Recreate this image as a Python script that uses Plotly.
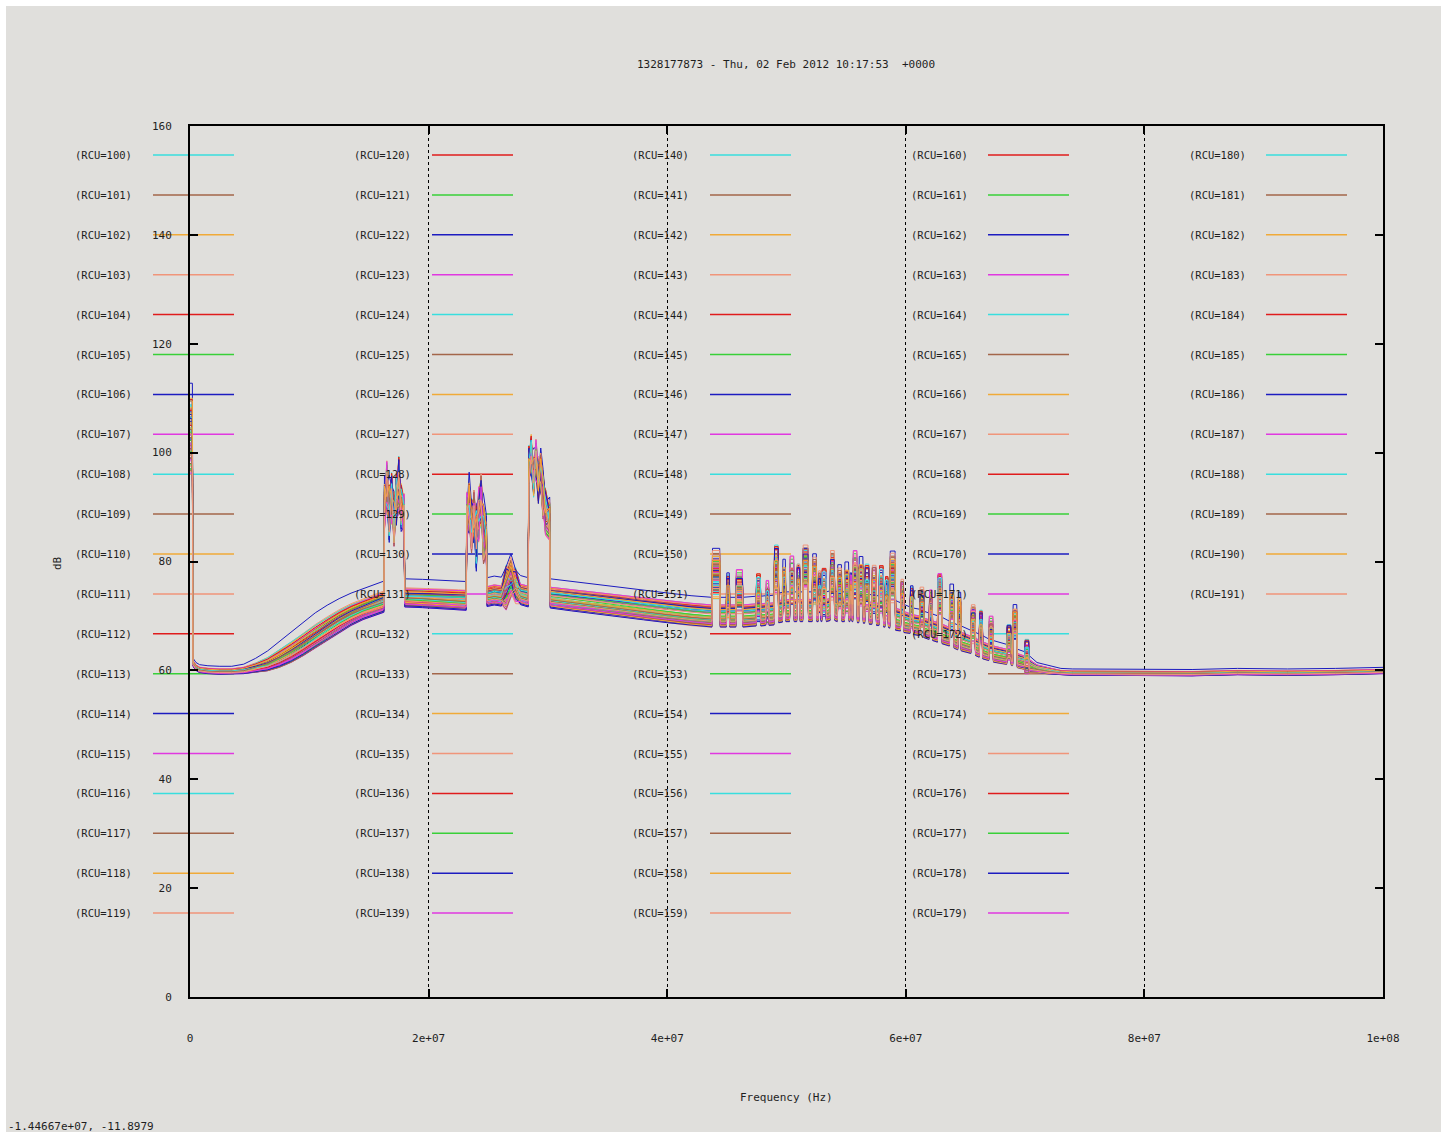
import plotly.graph_objects as go

# ---------------- data ----------------
# 0 - 43.75 MHz: low band, three RFI bands and smooth decline
freq_mhz = (
    [0.0, 0.2, 0.25, 0.5, 0.8, 1.5, 2.5, 3.5, 4.5, 5.5, 6.5, 7.5, 8.5, 9.5,
     10.5, 11.5, 12.5, 13.5, 14.5, 15.5, 16.25]
    + [16.3, 16.5, 16.7, 16.9, 17.1, 17.3, 17.5, 17.7, 17.95]
    + [18.0, 19.5, 21.0, 22.5, 23.15]
    + [23.2, 23.4, 23.6, 23.8, 24.0, 24.2, 24.4, 24.6, 24.85]
    + [24.9, 25.5, 26.1, 26.5, 26.9, 27.3, 27.7, 28.35]
    + [28.4, 28.6, 28.8, 29.0, 29.2, 29.4, 29.6, 29.8, 30.15]
    + [30.2, 32.0, 34.0, 36.0, 38.0, 40.0, 42.0, 43.75]
)
base_db = (
    [104, 104, 61.3, 60.5, 60.1, 59.9, 59.8, 59.8, 60.0, 60.5, 61.1, 62.1, 63.3,
     64.7, 66.2, 67.6, 69.0, 70.2, 71.2, 72.0, 72.6]
    + [90, 93, 89, 92, 88, 91, 94, 90, 89]
    + [73.4, 73.3, 73.1, 73.0, 72.9]
    + [87, 90, 86, 89, 85, 88, 91, 86, 84]
    + [73.6, 73.9, 73.7, 74.6, 76.0, 75.0, 74.0, 73.6]
    + [97, 99, 96, 98, 95, 97, 92, 89, 88]
    + [73.4, 72.9, 72.4, 71.9, 71.3, 70.8, 70.3, 70.0]
)
spread_db = (
    [2.5, 2.5, 0.5, 0.5, 0.5, 0.5, 0.5, 0.5, 0.6, 0.9, 1.3, 1.7, 2.0, 2.2, 2.3,
     2.3, 2.2, 2.1, 2.0, 2.0, 2.0]
    + [1.5] * 9 + [1.8] * 5 + [1.8] * 9 + [1.8] * 8 + [1.5] * 9 + [1.8] * 8
)
tilt_db = (
    [0, 0, 0, 0, 0, 0, 0, 0, 0, 0.3, 0.6, 0.9, 1.0, 1.0, 0.9, 0.8, 0.7, 0.6,
     0.5, 0.4, 0.3]
    + [0] * 9 + [0.2, 0.1, 0.0, -0.1, -0.2] + [0] * 9
    + [-0.2, -0.3, -0.3, -0.3, -0.4, -0.4, -0.4, -0.5] + [0] * 9
    + [-0.5, -0.6, -0.6, -0.7, -0.7, -0.8, -0.8, -0.8]
)
slot = (
    [0, 0] + [-1] * 19
    + [1, 2, 3, 4, 5, 6, 7, 8, 9] + [-1] * 5
    + [10, 11, 12, 13, 14, 15, 16, 17, 18]
    + [-1, -1, -1, 19, 20, 21, -1, -1]
    + [22, 23, 24, 25, 26, 27, 28, 29, 30] + [-1] * 8
)

# 43.8 - 70.3 MHz: narrow RFI spikes
spk_start_mhz = [43.8, 45.0, 45.8, 47.5, 48.3, 49.0, 49.7, 50.3, 50.9, 51.4,
                 52.2, 52.7, 53.0, 53.7, 54.3, 54.9, 55.35, 55.6, 56.1, 56.6,
                 57.2, 57.8, 58.3, 58.7, 59.6, 60.4, 61.2, 62.0, 62.7, 63.7,
                 64.4, 65.5, 66.2, 67.0, 68.5, 69.0, 70.0]
spk_end_mhz = [44.4, 45.2, 46.3, 47.8, 48.5, 49.3, 49.9, 50.6, 51.1, 51.8,
               52.5, 52.85, 53.3, 54.0, 54.6, 55.2, 55.45, 55.9, 56.4, 56.9,
               57.5, 58.1, 58.5, 59.1, 59.8, 60.6, 61.5, 62.2, 63.0, 64.0,
               64.6, 65.8, 66.4, 67.3, 68.8, 69.3, 70.3]
spk_peak_db = [77, 73.5, 74.5, 73, 72.5, 78, 75, 76, 75.5, 78,
               76, 74.5, 74, 77, 75, 74.5, 73.5, 77, 75.5, 74.5,
               74.5, 74.5, 73.5, 76.5, 73, 71.5, 70.5, 71, 74, 71,
               69.5, 68.5, 67.5, 66.5, 65, 68, 62.5]
spk_floor_before_db = [70.0, 70.0, 70.0, 70.2, 70.3, 70.4, 70.9, 71.0, 71.0, 71.0,
                       71.0, 71.0, 71.0, 71.2, 71.0, 71.0, 71.0, 71.0, 70.8, 70.7,
                       70.5, 70.3, 70.0, 69.8, 69.2, 68.6, 68.2, 67.5, 67.0, 66.2,
                       65.5, 64.7, 64.0, 63.3, 62.5, 62.2, 61.4]
spk_floor_after_db = [70.0, 70.0, 70.0, 70.2, 70.3, 70.8, 71.0, 71.0, 71.0, 71.0,
                      71.0, 71.0, 71.0, 71.2, 71.0, 71.0, 71.0, 70.8, 70.7, 70.5,
                      70.3, 70.0, 69.9, 69.4, 68.9, 68.4, 67.8, 67.3, 66.7, 65.8,
                      65.3, 64.3, 63.7, 63.0, 62.3, 61.8, 60.8]
spk_spread_db = [1.8] * 24 + [1.7, 1.6, 1.6, 1.6, 1.6, 1.5, 1.5, 1.4, 1.4, 1.3,
                              1.2, 1.1, 1.0]
spk_tilt_db = [-0.8] * 25 + [-0.7] * 6 + [-0.6] * 6
spk_slot = [31, 55, 32, 33, 56, 34, 57, 35, 58, 36,
            37, 59, 38, 39, 40, 41, 60, 42, 61, 43,
            44, 45, 62, 46, 63, 64, 47, 65, 48, 49,
            66, 50, 67, 51, 52, 53, 54]

# 71 - 100 MHz: quiet tail
tail_freq_mhz = [71.0, 72.0, 73.0, 74.0, 76.0, 80.0, 84.0, 87.8, 92.0, 96.0,
                 99.0, 100.0]
tail_db = [60.3, 59.9, 59.6, 59.5, 59.5, 59.4, 59.4, 59.6, 59.5, 59.6, 59.8,
           59.8]
tail_spread_db = [0.6, 0.5] + [0.4] * 10
tail_tilt_db = [-0.3, -0.2] + [0] * 10

# RCU-specific deviations in the RFI bands and spikes (dB), 68 slots
pattern_a = [4, 3, -2, 4, -1, 2, -3, 1, 0, -2, -2, 3, 1, -4, 2, 0, -1, 3, 1,
             1, 2, 0, 1, -2, 2, 0, -3, 1, 2, -1, 1,
             2, -1, 0, 1, -2, 1, 2, 0, -1, 1, 2, -2, 0, 1, -1, 2,
             1, -1, 2, 0, -1, 1, 2, -1,
             1, -1, 2, 0, -2, 1, 2, -1, 0, 1, -1, 2, 0]
pattern_b = [-3, -1, 4, -3, 2, -4, 1, 3, -2, 2, 4, -1, -3, 2, -2, 4, 1, -5, -1,
             -2, -1, 1, -2, 1, -1, 3, 1, -2, -3, 2, -2,
             -1, 2, 1, -2, 3, -1, 0, 2, 1, -2, -1, 3, -2, 0, 2, -1,
             -1, 2, 0, 1, 2, -2, 0, 1,
             -1, 2, 0, 1, -1, 2, -2, 0, 1, -1, 2, 0, 1]
pattern_c = [1, 2, 1, -4, 3, 0, -2, 4, -3, -1, 1, -3, 4, 0, -5, 2, 3, -2, 2,
             3, 1, 2, 3, -1, -2, 1, 2, -3, 1, 3, 0,
             0, 1, -2, 3, 0, 2, -1, -2, 2, 0, 1, -1, 3, -2, 0, 1,
             2, 0, -2, 1, 0, 2, -1, 2,
             2, 0, -1, 2, 1, -2, 0, 1, -1, 2, 0, -1, 2]
pattern_d = [-6, -3, -1, 2, -4, 3, 2, -2, 1, -4, -3, 2, -2, 3, 1, -3, 4, 0, -2,
             -1, 0, -1, -1, 2, 1, -2, 0, 2, -1, -3, -3,
             1, -2, 2, 0, 1, -1, 3, 1, -2, 2, 0, 1, -1, 3, 1, -2,
             0, 1, 1, -2, 1, 0, 2, 0,
             0, 1, -2, -1, 2, 0, 1, -2, 2, 0, 1, 1, -1]
pattern_e = [2, 1, -3, 0, 2, -2, 4, -1, 3, 1, 2, 0, -1, -2, 4, -1, -3, 2, 0,
             0, -1, 1, 0, 3, -3, 2, -1, 0, 3, 1, -1,
             -2, 0, 3, -1, 1, 0, -2, 3, 0, -1, 2, 0, 1, -1, 3, 0,
             -1, 2, 1, 0, -2, 1, 0, 1,
             -2, 1, 1, -1, 0, -1, 2, 2, -1, 1, -2, 0, 1]
pattern_f = [-1, -2, 2, 3, -3, 1, -1, -4, 2, 0, -1, -2, 2, 1, -1, 3, -2, 1, -3,
             2, 3, 0, 2, 0, 1, -1, 3, -1, -2, 0, 2,
             3, 1, -1, 2, -1, 3, 1, -1, 3, 1, -2, 2, 2, -1, -2, 3,
             3, -2, 0, 2, 1, -1, 1, -2,
             1, -2, 0, 2, 1, 0, -1, 1, 0, -2, 1, 2, 0]

rcu_ids = list(range(100, 192))
rcu_gain = [0.3, -0.5, 0.8, -0.2, 0.1, -0.9, 0.6, -0.4, 0.9, 0.0,
            -0.7, 0.4, -0.1, 0.7, -0.6, 0.2, -0.8, 0.5, -0.3, 1.0,
            0.1, -0.4, 0.6, -1.0, 0.3, -0.2, 0.8, -0.6, 0.4, -0.1,
            0.7, -0.8, 0.2, -0.5, 0.9, -0.3, 0.0, 0.5, -0.7, 0.3,
            -0.2, 0.6, -0.9, 0.1, 0.8, -0.4, 0.4, -0.6, 0.2, -0.1,
            0.5, -0.8, 0.7, -0.3, 1.9, 0.0, -0.5, 0.6, -0.2, 0.9,
            -0.6, 0.3, -1.0, 0.4, 0.1, -0.7, 0.8, -0.3, 0.5, -0.1,
            0.2, -0.5, 0.7, -0.8, 0.0, 0.6, -0.4, 0.3, -0.9, 0.9,
            -0.2, 0.4, -0.6, 0.1, 0.7, -0.3, 0.5, -0.7, 0.2, -0.1,
            0.6, -0.4]
rcu_tilt = [-0.6, 0.4, 0.2, -0.9, 0.7, 0.1, -0.3, 0.8, -0.5, 0.6,
            0.3, -0.8, 0.9, -0.2, 0.0, -0.7, 0.5, -0.4, 0.8, -0.1,
            0.6, 0.9, -0.5, 0.2, -0.8, 0.4, -0.2, 0.7, -0.9, 0.1,
            -0.4, 0.3, 0.8, -0.6, -0.1, 0.5, -0.9, 0.2, 0.6, -0.3,
            0.9, -0.5, 0.1, 0.7, -0.4, -0.8, 0.3, 0.0, -0.7, 0.5,
            -0.2, 0.8, -0.6, 0.4, 0.0, -0.9, 0.6, 0.2, -0.3, -0.5,
            0.7, -0.1, 0.3, -0.8, 0.9, 0.4, -0.6, 0.1, -0.4, 0.8,
            -0.7, 0.2, 0.5, -0.2, 0.6, -0.9, 0.0, 0.7, 0.3, -0.5,
            0.4, -0.8, 0.9, -0.3, 0.1, 0.6, -0.6, 0.2, -0.9, 0.5,
            -0.1, 0.3]

x_tick_vals = [0, 2e7, 4e7, 6e7, 8e7, 1e8]
x_tick_text = ["0", "2e+07", "4e+07", "6e+07", "8e+07", "1e+08"]
y_tick_vals = [0, 20, 40, 60, 80, 100, 120, 140, 160]

title_text = "1328177873 - Thu, 02 Feb 2012 10:17:53  +0000"
x_title = "Frequency (Hz)"
y_title = "dB"
cursor_text = "-1.44667e+07, -11.8979"

# ---------------- assemble the common frequency grid ----------------
EDGE = 0.05  # MHz, width of the rising/falling edge of a spike
grid_f = list(freq_mhz)
grid_b = list(base_db)
grid_s = list(spread_db)
grid_t = list(tilt_db)
grid_slot = list(slot)
for j in range(len(spk_start_mhz)):
    grid_f += [spk_start_mhz[j] - EDGE, spk_start_mhz[j], spk_end_mhz[j],
               spk_end_mhz[j] + EDGE]
    grid_b += [spk_floor_before_db[j], spk_peak_db[j], spk_peak_db[j],
               spk_floor_after_db[j]]
    grid_s += [spk_spread_db[j]] * 4
    grid_t += [spk_tilt_db[j]] * 4
    grid_slot += [-1, spk_slot[j], spk_slot[j], -1]
grid_f += tail_freq_mhz
grid_b += tail_db
grid_s += tail_spread_db
grid_t += tail_tilt_db
grid_slot += [-1] * len(tail_freq_mhz)

n = len(grid_f)
for name, arr in [("base", grid_b), ("spread", grid_s), ("tilt", grid_t),
                  ("slot", grid_slot)]:
    if len(arr) != n:
        raise SystemExit(f"{name} length {len(arr)} != {n}")
patterns = [pattern_a, pattern_b, pattern_c, pattern_d, pattern_e, pattern_f]
for p in patterns:
    if len(p) != 68:
        raise SystemExit(f"pattern length {len(p)}")

# ---------------- style ----------------
palette = ["#38dede", "#a3664a", "#f0aa38", "#f0957a",
           "#e01c1c", "#38d038", "#1c1cc0", "#e038e0"]
FONT = "DejaVu Sans Mono"
BG = "#e0dfdc"
TXT = "#1e1e1e"

X0, X1, Y0, Y1 = 190, 1383, 126, 997   # plot-area pixel frame


def px(x):
    return (x - X0) / (X1 - X0)


def py(y):
    return (Y1 - y) / (Y1 - Y0)


freq_hz = [f * 1e6 for f in grid_f]

fig = go.Figure()
for i, rcu in enumerate(rcu_ids):
    pat = patterns[i % len(patterns)]
    y = []
    for k in range(n):
        v = grid_b[k] + rcu_gain[i] * grid_s[k] + rcu_tilt[i] * grid_t[k]
        if grid_slot[k] >= 0:
            v += pat[grid_slot[k]]
        y.append(v)
    fig.add_trace(go.Scatter(
        x=freq_hz, y=y, mode="lines", name=f"(RCU={rcu})",
        line=dict(color=palette[i % 8], width=1),
        showlegend=False, hoverinfo="skip"))

# ---------------- manual gnuplot-style key ----------------
shapes = [dict(type="rect", xref="paper", yref="paper",
               x0=px(6), x1=px(1441), y0=py(6), y1=py(1140),
               fillcolor=BG, line=dict(width=0), layer="below")]
annotations = []
col_text_right = [134, 413, 691, 970, 1248]
col_line_x0 = [153, 432, 710, 988, 1266]
col_line_len = 81
row_y0, row_step = 155, 39.9
for i, rcu in enumerate(rcu_ids):
    c, r = divmod(i, 20)
    yy = row_y0 + r * row_step
    annotations.append(dict(
        x=px(col_text_right[c]), y=py(yy), xref="paper", yref="paper",
        text=f"(RCU={rcu})", showarrow=False, xanchor="right", yanchor="middle",
        font=dict(family=FONT, size=10.5, color=TXT)))
    shapes.append(dict(
        type="line", xref="paper", yref="paper",
        x0=px(col_line_x0[c]), x1=px(col_line_x0[c] + col_line_len),
        y0=py(yy), y1=py(yy), line=dict(color=palette[i % 8], width=1.5),
        layer="below"))

annotations += [
    dict(x=px(786), y=py(65), xref="paper", yref="paper", text=title_text,
         showarrow=False, xanchor="center", yanchor="middle",
         font=dict(family=FONT, size=11, color=TXT)),
    dict(x=px(786), y=py(1097), xref="paper", yref="paper", text=x_title,
         showarrow=False, xanchor="center", yanchor="middle",
         font=dict(family=FONT, size=11, color=TXT)),
    dict(x=px(57), y=py(563), xref="paper", yref="paper", text=y_title,
         showarrow=False, textangle=-90, xanchor="center", yanchor="middle",
         font=dict(family=FONT, size=11, color=TXT)),
    dict(x=px(6), y=py(1126), xref="paper", yref="paper", text=cursor_text,
         showarrow=False, xanchor="left", yanchor="middle",
         font=dict(family=FONT, size=11, color=TXT)),
]

fig.update_layout(
    width=1447, height=1132,
    margin=dict(l=X0, r=1447 - X1, t=Y0, b=1132 - Y1, pad=0),
    paper_bgcolor="white", plot_bgcolor="rgba(0,0,0,0)",
    font=dict(family=FONT, size=11, color=TXT),
    shapes=shapes, annotations=annotations, showlegend=False,
    xaxis=dict(range=[0, 1e8], tickvals=x_tick_vals, ticktext=x_tick_text,
               ticks="inside", ticklen=8, tickwidth=2, tickcolor="black",
               showline=True, linecolor="black", linewidth=2, mirror="ticks",
               showgrid=True, gridcolor="black", griddash="dot", gridwidth=1,
               zeroline=False, ticklabelstandoff=30,
               tickfont=dict(family=FONT, size=11, color=TXT)),
    yaxis=dict(range=[0, 160], tickvals=y_tick_vals,
               ticks="inside", ticklen=8, tickwidth=2, tickcolor="black",
               showline=True, linecolor="black", linewidth=2, mirror="ticks",
               showgrid=False, zeroline=False, ticklabelstandoff=14,
               tickfont=dict(family=FONT, size=11, color=TXT)),
)

fig.write_html("out.html", config={"displayModeBar": False},
               post_script="document.body.style.margin='0px';"
                           "document.body.style.overflow='hidden';")
